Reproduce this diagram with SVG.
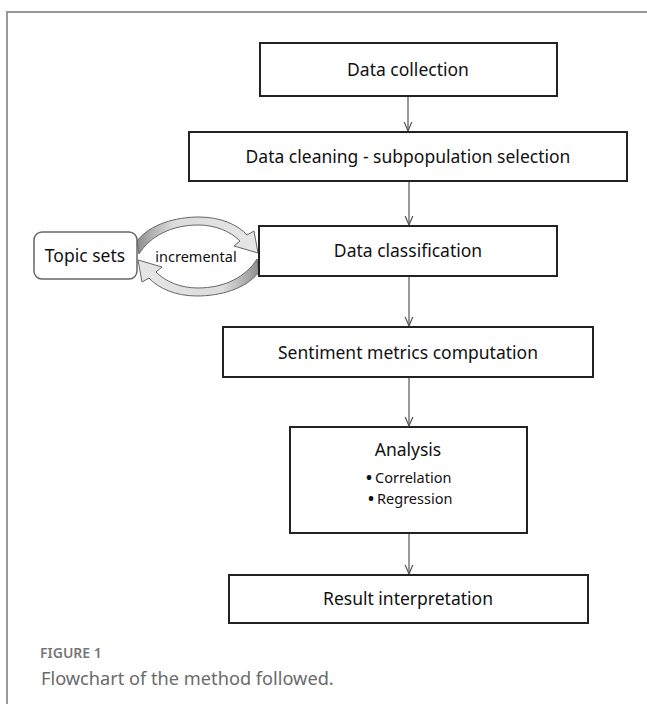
<svg xmlns="http://www.w3.org/2000/svg" width="647" height="704" viewBox="0 0 647 704">
  <style>
    .box { fill: #ffffff; stroke: #222222; stroke-width: 2; }
    .lbl { font-family: "Noto Sans", "Open Sans", sans-serif; font-size: 17.5px; fill: #111111; text-anchor: middle; }
    .small { font-family: "Noto Sans", "Open Sans", sans-serif; font-size: 14.5px; fill: #111111; }
    .bul { font-size: 16px; font-weight: bold; }
    .conn { stroke: #555555; stroke-width: 1.2; fill: none; }
    .carrow { stroke: #666666; stroke-width: 1; }
    .cap1 { font-family: "Noto Sans", "Open Sans", sans-serif; font-size: 14px; font-weight: 600; fill: #777777; }
    .cap2 { font-family: "Noto Sans", "Open Sans", sans-serif; font-size: 18.2px; fill: #6a6a6a; }
  </style>
  <defs>
    <marker id="vhead" viewBox="0 0 10 10" refX="9.5" refY="5" markerWidth="10" markerHeight="10" markerUnits="userSpaceOnUse" orient="auto">
      <path d="M0,1 L9.5,5 L0,9" fill="none" stroke="#555555" stroke-width="1.2"/>
    </marker>
    <linearGradient id="gTop" gradientUnits="userSpaceOnUse" x1="137" y1="0" x2="258" y2="0">
      <stop offset="0" stop-color="#8c8c8c"/>
      <stop offset="0.12" stop-color="#b0b0b0"/>
      <stop offset="0.3" stop-color="#dcdcdc"/>
      <stop offset="1" stop-color="#e6e6e6"/>
    </linearGradient>
    <linearGradient id="gBot" gradientUnits="userSpaceOnUse" x1="259" y1="0" x2="138" y2="0">
      <stop offset="0" stop-color="#8c8c8c"/>
      <stop offset="0.12" stop-color="#b0b0b0"/>
      <stop offset="0.3" stop-color="#dcdcdc"/>
      <stop offset="1" stop-color="#e6e6e6"/>
    </linearGradient>
  </defs>

  <rect x="0" y="0" width="647" height="704" fill="#ffffff"/>
  <!-- frame -->
  <path d="M7,704 L7,12 L647,12" fill="none" stroke="#999999" stroke-width="2"/>

  <g id="connectors">
    <line class="conn" x1="408" y1="96" x2="408" y2="131" marker-end="url(#vhead)"/>
    <line class="conn" x1="409" y1="181" x2="409" y2="225" marker-end="url(#vhead)"/>
    <line class="conn" x1="409" y1="276" x2="409" y2="326" marker-end="url(#vhead)"/>
    <line class="conn" x1="409" y1="377" x2="409" y2="426" marker-end="url(#vhead)"/>
    <line class="conn" x1="409" y1="533" x2="409" y2="574" marker-end="url(#vhead)"/>
    <path id="incTop" class="carrow" fill="url(#gTop)" d="M137,241 C150,224 176,217 199,217 C221,217 238,225 247,235 L254,231 L258,253 L234,246 L240,241 C230,231 215,225 198,225 C172,225 150,236 139,254 Z"/>
    <path id="incBot" class="carrow" fill="url(#gBot)" d="M259,272 C246,289 220,296 197,296 C175,296 158,288 149,278 L142,282 L138,260 L162,267 L156,272 C166,282 181,288 198,288 C224,288 246,277 257,259 Z"/>
    <text class="small" x="196" y="262" font-size="13.5" text-anchor="middle">incremental</text>
  </g>

  <g id="data-collection">
    <rect class="box" x="260" y="43" width="297" height="53"/>
    <text class="lbl" x="408" y="76">Data collection</text>
  </g>
  <g id="data-cleaning">
    <rect class="box" x="189" y="132" width="438" height="49"/>
    <text class="lbl" x="408" y="163">Data cleaning - subpopulation selection</text>
  </g>
  <g id="topic-sets">
    <rect x="34" y="232" width="103" height="47" rx="8" ry="8" fill="#ffffff" stroke="#666666" stroke-width="1.5"/>
    <text class="lbl" x="85" y="262" font-size="16">Topic sets</text>
  </g>
  <g id="data-classification">
    <rect class="box" x="259" y="226" width="298" height="50"/>
    <text class="lbl" x="408" y="257">Data classification</text>
  </g>
  <g id="sentiment">
    <rect class="box" x="223" y="327" width="370" height="50"/>
    <text class="lbl" x="408" y="359">Sentiment metrics computation</text>
  </g>
  <g id="analysis">
    <rect class="box" x="290" y="427" width="237" height="106"/>
    <text class="lbl" x="408" y="456">Analysis</text>
    <text class="small" x="366" y="483"><tspan class="bul">•</tspan><tspan dx="3">Correlation</tspan></text>
    <text class="small" x="368" y="504"><tspan class="bul">•</tspan><tspan dx="3">Regression</tspan></text>
  </g>
  <g id="result">
    <rect class="box" x="229" y="575" width="359" height="48"/>
    <text class="lbl" x="408" y="605">Result interpretation</text>
  </g>

  <text class="cap1" x="40" y="658">FIGURE 1</text>
  <text class="cap2" x="41" y="685">Flowchart of the method followed.</text>
</svg>
